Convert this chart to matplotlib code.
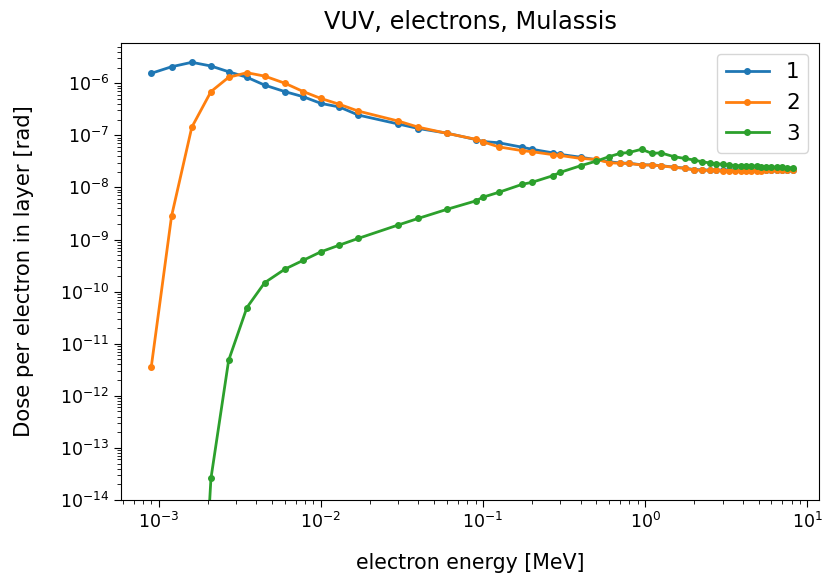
import numpy as np
import matplotlib
matplotlib.use("Agg")
import matplotlib.pyplot as plt

energy = [0.0009, 0.0012, 0.0016, 0.0021, 0.0027, 0.0035, 0.0045, 0.006, 0.0078, 0.01,
          0.013, 0.017, 0.03, 0.04, 0.06, 0.09, 0.1, 0.125, 0.175, 0.2,
          0.27, 0.3, 0.4, 0.5, 0.6, 0.7, 0.8, 0.95, 1.1, 1.25,
          1.5, 1.75, 2.0, 2.25, 2.5, 2.75, 3.0, 3.3, 3.6, 3.9,
          4.2, 4.5, 4.9, 5.2, 5.6, 6.0, 6.5, 7.0, 7.5, 8.2]

dose_1 = [1.55e-6, 2.07e-6, 2.52e-6, 2.14e-6, 1.66e-6, 1.30e-6, 9.2e-7, 6.9e-7, 5.5e-7, 4.1e-7,
          3.5e-7, 2.45e-7, 1.65e-7, 1.35e-7, 1.1e-7, 8.3e-8, 7.6e-8, 7.2e-8, 5.9e-8, 5.4e-8,
          4.6e-8, 4.3e-8, 3.8e-8, 3.4e-8, 3.1e-8, 2.95e-8, 2.9e-8, 2.72e-8, 2.7e-8, 2.62e-8,
          2.45e-8, 2.35e-8, 2.2e-8, 2.17e-8, 2.15e-8, 2.15e-8, 2.14e-8, 2.14e-8, 2.13e-8, 2.13e-8,
          2.13e-8, 2.13e-8, 2.13e-8, 2.14e-8, 2.14e-8, 2.15e-8, 2.15e-8, 2.16e-8, 2.16e-8, 2.17e-8]

dose_2 = [3.6e-12, 2.8e-9, 1.43e-7, 6.9e-7, 1.30e-6, 1.59e-6, 1.37e-6, 1.0e-6, 6.9e-7, 5.1e-7,
          3.94e-7, 2.92e-7, 1.88e-7, 1.43e-7, 1.09e-7, 8.4e-8, 7.5e-8, 6.0e-8, 5.07e-8, 4.85e-8,
          4.25e-8, 4.1e-8, 3.6e-8, 3.45e-8, 2.98e-8, 2.9e-8, 2.88e-8, 2.69e-8, 2.69e-8, 2.6e-8,
          2.43e-8, 2.33e-8, 2.16e-8, 2.14e-8, 2.12e-8, 2.12e-8, 2.11e-8, 2.11e-8, 2.1e-8, 2.1e-8,
          2.1e-8, 2.1e-8, 2.11e-8, 2.11e-8, 2.12e-8, 2.12e-8, 2.13e-8, 2.14e-8, 2.15e-8, 2.16e-8]

dose_3 = [np.nan, np.nan, 1e-20, 2.6e-14, 4.8e-12, 4.95e-11, 1.48e-10, 2.7e-10, 4.0e-10, 5.8e-10,
          7.8e-10, 1.05e-9, 1.9e-9, 2.55e-9, 3.8e-9, 5.5e-9, 6.5e-9, 8.05e-9, 1.15e-8, 1.25e-8,
          1.68e-8, 1.95e-8, 2.61e-8, 3.2e-8, 3.9e-8, 4.5e-8, 4.7e-8, 5.4e-8, 4.5e-8, 4.6e-8,
          3.9e-8, 3.6e-8, 3.36e-8, 3.1e-8, 2.95e-8, 2.85e-8, 2.77e-8, 2.7e-8, 2.62e-8, 2.6e-8,
          2.55e-8, 2.6e-8, 2.55e-8, 2.5e-8, 2.5e-8, 2.45e-8, 2.45e-8, 2.42e-8, 2.4e-8, 2.38e-8]

labels = ["1", "2", "3"]
series = [dose_1, dose_2, dose_3]
colors = ["#1f77b4", "#ff7f0e", "#2ca02c"]

fig = plt.figure(figsize=(8.25, 5.75), dpi=100)
ax = fig.add_axes([121/825, 75/575, 698/825, 457/575])

for lab, ys, c in zip(labels, series, colors):
    ax.plot(energy, ys, marker='.', color=c, label=lab, lw=2.0, ms=8)

ax.set_xscale('log')
ax.set_yscale('log')
ax.set_xlim(10**-3.2325, 10**1.072)
ax.set_ylim(1e-14, 10**-5.228)

ax.set_title("VUV, electrons, Mulassis", fontsize=17.3, pad=10)
ax.set_xlabel("electron energy [MeV]", fontsize=14.8, labelpad=15)
ax.set_ylabel("Dose per electron in layer [rad]", fontsize=15.2, labelpad=19)
ax.tick_params(labelsize=12.5, length=5)
ax.tick_params(which='minor', length=3)
ax.set_yticks([10.0**k for k in range(-14, -5)])
ax.legend(loc='upper right', fontsize=15.5, handlelength=2.0)

fig.savefig("out.png", dpi=100)
